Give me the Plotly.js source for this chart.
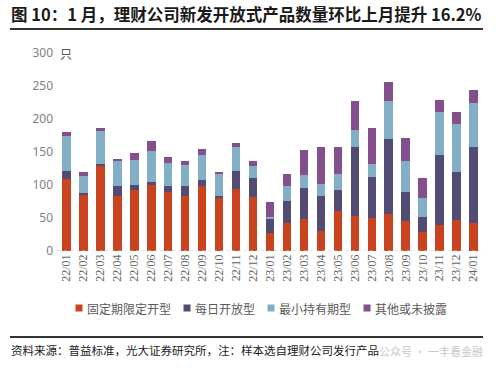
<!DOCTYPE html>
<html>
<head>
<meta charset="utf-8">
<script src="https://cdn.plot.ly/plotly-3.0.1.min.js"></script>
<style>
html,body{margin:0;padding:0;background:#fff;}
#chart{width:500px;height:370px;}
</style>
</head>
<body>
<div id="chart"></div>
<script>
const months = ["22/01","22/02","22/03","22/04","22/05","22/06","22/07","22/08","22/09","22/10","22/11","22/12",
                "23/01","23/02","23/03","23/04","23/05","23/06","23/07","23/08","23/09","23/10","23/11","23/12","24/01"];
const fixedTerm  = [109,85,129,84,92,100,90,84,99,80,94,82, 28,43,48,30,60,53,50,56,45,29,40,47,42];
const dailyOpen  = [12,3,3,14,8,5,9,15,9,3,27,29, 20,33,48,54,33,105,62,114,44,23,105,72,116];
const minHolding = [53,25,50,39,38,46,34,31,38,33,37,18, 4,23,19,18,24,26,20,57,47,29,66,73,66];
const otherUndis = [6,6,4,3,10,16,9,6,9,3,5,7, 22,17,38,56,41,44,55,29,35,29,18,18,20];
const seriesNames = ["固定期限定开型","每日开放型","最小持有期型","其他或未披露"];
const seriesColors = ["#C9431F","#524C74","#82AEC6","#834F8D"];
const yTicks = [0,50,100,150,200,250,300];

const W = 500, H = 370;
const M = {l:58, r:18, t:53, b:119};
const PW = W - M.l - M.r, PH = H - M.t - M.b;
const px2x = p => (p - M.l) / PW;
const px2y = p => (H - M.b - p) / PH;

const dataArr = [fixedTerm, dailyOpen, minHolding, otherUndis];
const traces = dataArr.map((vals,i)=>({
  type:'bar', name:seriesNames[i], x:months, y:vals,
  marker:{color:seriesColors[i]}, hoverinfo:'x+y+name'
}));

const font = '"Noto Sans CJK SC","Noto Sans",sans-serif';

// legend (drawn as shapes + annotations, positions in pixels)
const legendMarkX = [79, 187, 271, 367];
const legendY = 308;
const legendShapes = seriesColors.map((c,i)=>({
  type:'rect', xref:'paper', yref:'paper',
  x0:px2x(legendMarkX[i]-3.5), x1:px2x(legendMarkX[i]+3.5),
  y0:px2y(legendY+3.5), y1:px2y(legendY-3.5),
  fillcolor:c, line:{width:0}
}));
const legendAnn = seriesNames.map((n,i)=>({
  xref:'paper', yref:'paper', x:px2x(legendMarkX[i]+6), y:px2y(legendY),
  xanchor:'left', yanchor:'middle', showarrow:false, text:n,
  font:{size:12, color:'#595959', family:font}
}));

const layout = {
  width:W, height:H,
  margin:M,
  barmode:'stack', bargap:0.5,
  paper_bgcolor:'#fff', plot_bgcolor:'#fff',
  font:{family:font, color:'#595959', size:12},
  showlegend:false,
  xaxis:{type:'category', range:[-0.5,24.5], showgrid:false, zeroline:false, showline:false,
         tickangle:-90, ticks:'', tickfont:{family:'"Liberation Serif",serif', size:12, color:'#666'},
         fixedrange:true},
  yaxis:{range:[0,300], tickvals:yTicks, showgrid:false, zeroline:false, showline:false,
         ticks:'', tickfont:{size:12, color:'#7f7f7f', family:'"Noto Sans",sans-serif'},
         ticklabelstandoff:4, fixedrange:true},
  shapes:[
    {type:'line', xref:'paper', yref:'y', x0:0, x1:1, y0:0, y1:0, line:{color:'#D9C9C9', width:1.2, dash:'dot'}},
    {type:'line', xref:'paper', yref:'paper', x0:px2x(10), x1:px2x(483), y0:px2y(29), y1:px2y(29), line:{color:'#333', width:2}},
    {type:'line', xref:'paper', yref:'paper', x0:px2x(10), x1:px2x(483), y0:px2y(337), y1:px2y(337), line:{color:'#333', width:2}}
  ].concat(legendShapes),
  annotations:[
    {xref:'paper', yref:'paper', x:px2x(9), y:px2y(14), xanchor:'left', yanchor:'middle', showarrow:false,
     text:'<b>图 10：1 月，理财公司新发开放式产品数量环比上月提升 16.2%</b>', font:{size:16.5, color:'#1a1a1a', family:font}},
    {xref:'paper', yref:'y', x:0, y:300, xanchor:'left', yanchor:'middle', showarrow:false,
     text:'只', font:{size:12, color:'#595959', family:font}},
    {xref:'paper', yref:'paper', x:px2x(9), y:px2y(350), xanchor:'left', yanchor:'middle', showarrow:false,
     text:'资料来源：普益标准，光大证券研究所，注：样本选自理财公司发行产品', font:{size:11.5, color:'#1a1a1a', family:font}},
    {xref:'paper', yref:'paper', x:px2x(485), y:px2y(351), xanchor:'right', yanchor:'middle', showarrow:false,
     text:'公众号 · 一丰看金融', font:{size:11, color:'#c8c8c8', family:font}}
  ].concat(legendAnn)
};
Plotly.newPlot('chart', traces, layout, {displayModeBar:false, staticPlot:true});
</script>
</body>
</html>
